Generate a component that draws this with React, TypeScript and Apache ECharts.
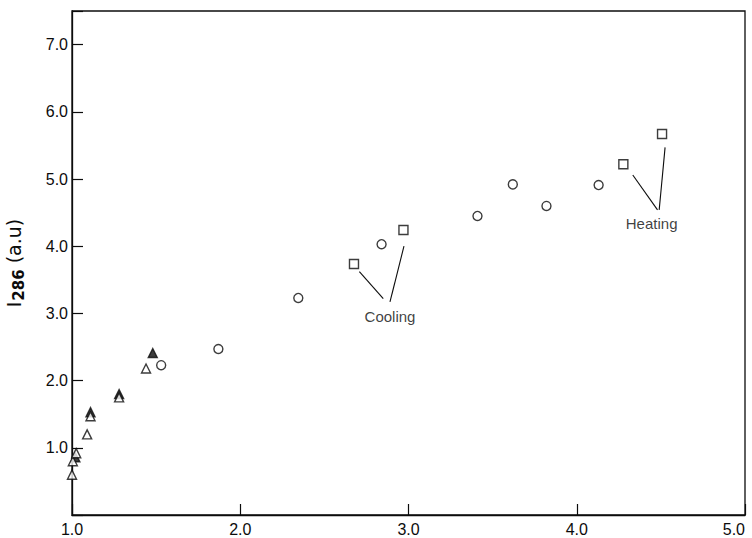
import React, { useEffect, useRef } from "react";
import * as echarts from "echarts";

// Data
const circlePoints: [number, number][] = [
  [1.53, 2.23],
  [1.87, 2.47],
  [2.345, 3.23],
  [2.84, 4.03],
  [3.41, 4.45],
  [3.62, 4.92],
  [3.82, 4.6],
  [4.13, 4.91],
];
const squarePoints: [number, number][] = [
  [2.676, 3.735],
  [2.97, 4.24],
  [4.277, 5.22],
  [4.507, 5.67],
];
const openTrianglePoints: [number, number][] = [
  [1.0, 0.6],
  [1.005, 0.8],
  [1.025, 0.92],
  [1.09, 1.2],
  [1.11, 1.47],
  [1.28, 1.75],
  [1.44, 2.18],
];
const filledTrianglePoints: [number, number][] = [
  [1.02, 0.86],
  [1.11, 1.53],
  [1.28, 1.8],
  [1.48, 2.41],
];
// annotation leader lines [from, to] in data units
const coolingLines: [[number, number], [number, number]][] = [
  [[2.708, 3.62], [2.85, 3.22]],
  [[2.973, 4.0], [2.89, 3.17]],
];
const heatingLines: [[number, number], [number, number]][] = [
  [[4.333, 5.06], [4.48, 4.54]],
  [[4.525, 5.47], [4.49, 4.54]],
];
const annotationTexts: { name: string; value: [number, number] }[] = [
  { name: "Cooling", value: [2.89, 2.95] },
  { name: "Heating", value: [4.445, 4.34] },
];
const xTicks = [1, 2, 3, 4, 5];
const yTicks = [1, 2, 3, 4, 5, 6, 7];

const FONT = "'Liberation Sans', Arial, sans-serif";
const NAME_FONT = "'DejaVu Sans', sans-serif";
const INK = "#0c0c0c";

export default function App() {
  const ref = useRef<HTMLDivElement>(null);
  useEffect(() => {
    if (!ref.current) return;
    const chart = echarts.init(ref.current, undefined, { renderer: "svg" });
    const markerStyle = (fill: string) => ({
      color: fill,
      borderColor: INK,
      borderWidth: 1.4,
    });
    const leaderLines = [...coolingLines, ...heatingLines].map((seg) => [
      { coord: seg[0] },
      { coord: seg[1] },
    ]);
    chart.setOption({
      animation: false,
      backgroundColor: "#fff",
      grid: {
        left: 72,
        right: 7,
        top: 11,
        bottom: 23,
        containLabel: false,
        outerBoundsMode: "none",
        show: true,
        borderColor: INK,
        borderWidth: 1.3,
        backgroundColor: "transparent",
      },
      xAxis: {
        type: "value",
        min: xTicks[0],
        max: xTicks[xTicks.length - 1],
        interval: 1,
        axisLine: { show: true, lineStyle: { color: INK, width: 1.3 } },
        axisTick: { show: true, inside: true, length: 11, lineStyle: { color: INK, width: 1.2 } },
        splitLine: { show: false },
        axisLabel: {
          margin: 6,
          color: INK,
          fontFamily: FONT,
          fontSize: 16,
          showMinLabel: true,
          showMaxLabel: true,
          alignMaxLabel: "right",
          formatter: (v: number) => (xTicks.includes(v) ? v.toFixed(1) : ""),
        },
      },
      yAxis: {
        type: "value",
        min: 0,
        max: 7.5,
        interval: 1,
        name: "{i|I}{s|286}{n| (a.u)}",
        nameLocation: "middle",
        nameRotate: 90,
        nameGap: 46,
        nameTextStyle: {
          rich: {
            i: { fontFamily: NAME_FONT, fontSize: 19, color: INK },
            s: { fontFamily: NAME_FONT, fontSize: 15, color: INK, verticalAlign: "bottom", padding: [9, 0, 0, 1], fontWeight: "bold" },
            n: { fontFamily: NAME_FONT, fontSize: 19, color: INK },
          },
        },
        axisLine: { show: true, lineStyle: { color: INK, width: 1.3 } },
        axisTick: { show: true, inside: true, length: 11, lineStyle: { color: INK, width: 1.2 } },
        splitLine: { show: false },
        axisLabel: {
          margin: 4,
          color: INK,
          fontFamily: FONT,
          fontSize: 16,
          formatter: (v: number) => (yTicks.includes(v) ? v.toFixed(1) : ""),
        },
      },
      series: [
        {
          type: "scatter",
          name: "circles",
          symbol: "circle",
          symbolSize: 9,
          itemStyle: markerStyle("#fff"),
          data: circlePoints,
          markLine: {
            silent: true,
            symbol: "none",
            label: { show: false },
            lineStyle: { color: INK, width: 1.1, type: "solid" },
            data: leaderLines,
          },
        },
        {
          type: "scatter",
          name: "squares",
          symbol: "rect",
          symbolSize: 9,
          itemStyle: markerStyle("#fff"),
          data: squarePoints,
        },
        {
          type: "scatter",
          name: "filledTriangles",
          symbol: "triangle",
          symbolSize: 9,
          itemStyle: markerStyle(INK),
          data: filledTrianglePoints,
        },
        {
          type: "scatter",
          name: "openTriangles",
          symbol: "triangle",
          symbolSize: 9,
          itemStyle: markerStyle("#fff"),
          data: openTrianglePoints,
        },
        {
          type: "scatter",
          name: "annotations",
          symbol: "circle",
          symbolSize: 0,
          silent: true,
          data: annotationTexts,
          label: {
            show: true,
            position: "inside",
            formatter: (p: any) => p.name,
            color: INK,
            fontFamily: FONT,
            fontSize: 15,
          },
        },
      ],
    });
    return () => chart.dispose();
  }, []);
  return (
    <div
      ref={ref}
      style={{ position: "fixed", left: 0, top: 0, width: 752, height: 538, background: "#fff" }}
    />
  );
}
